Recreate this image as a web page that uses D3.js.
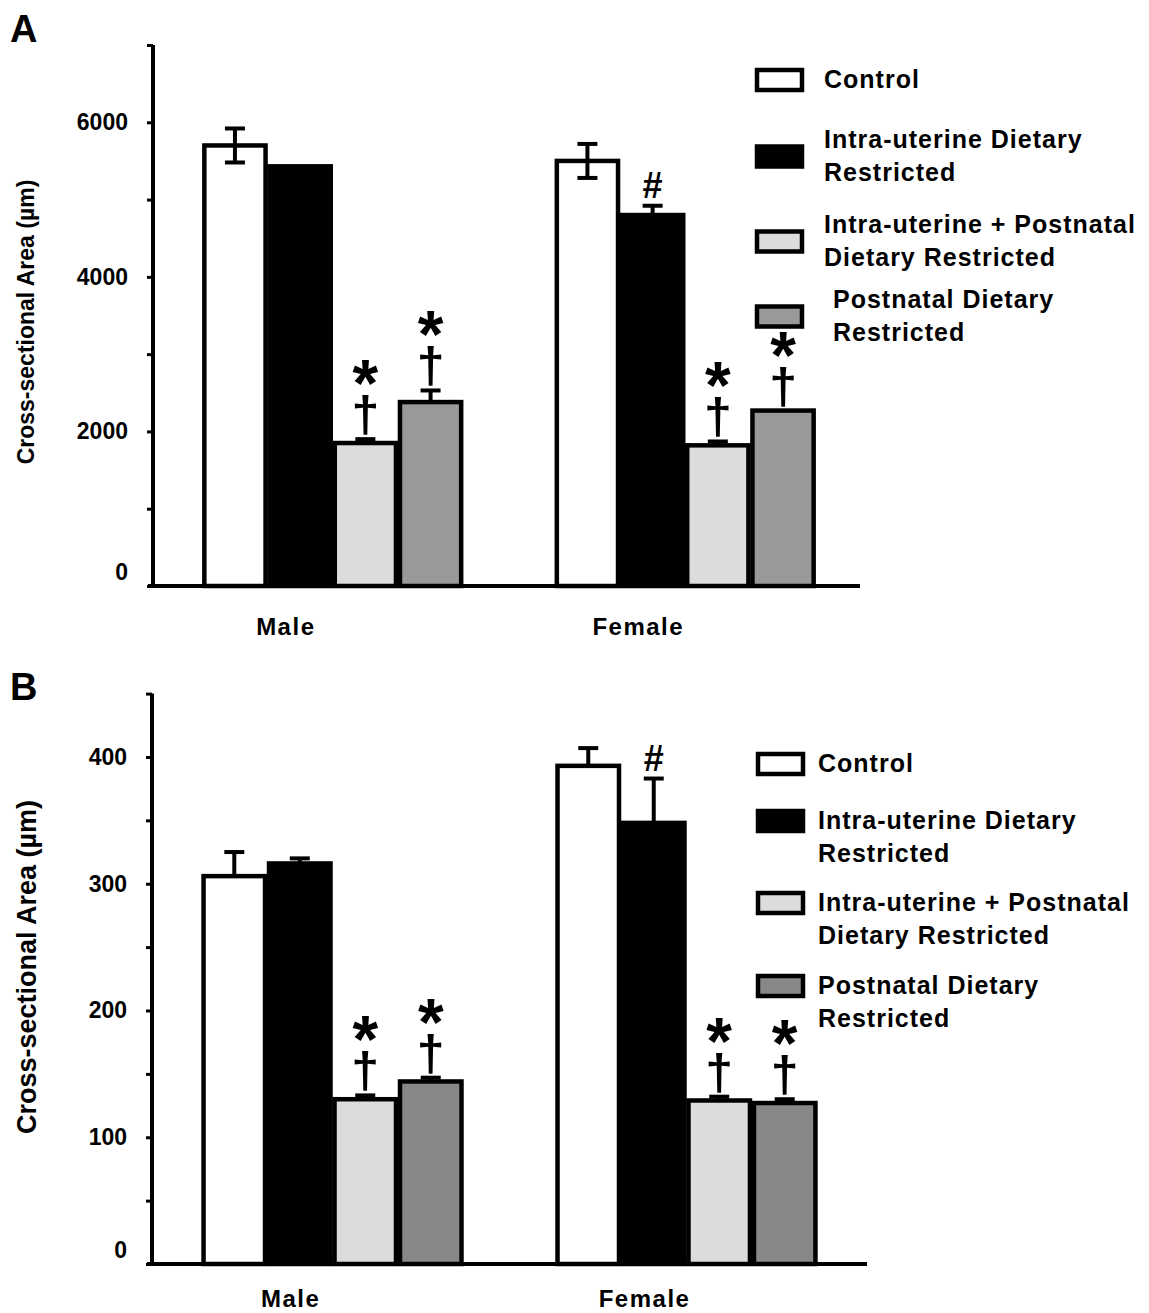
<!DOCTYPE html>
<html><head><meta charset="utf-8">
<script src="https://cdn.jsdelivr.net/npm/d3@7"></script>
<style>
body{margin:0;background:#fff}
svg{display:block}
text{font-family:"Liberation Sans",Arial,Helvetica,sans-serif;font-weight:bold;fill:#000}
</style>
</head><body>
<svg id="chart" width="1149" height="1313"></svg>
<script>
// ---------------- DATA ----------------
const groups = ["Male", "Female"];
const series = ["Control", "Intra-uterine Dietary Restricted", "Intra-uterine + Postnatal Dietary Restricted", "Postnatal Dietary Restricted"];
const legendLines = [["Control"], ["Intra-uterine Dietary", "Restricted"], ["Intra-uterine + Postnatal", "Dietary Restricted"], ["Postnatal Dietary", "Restricted"]];
const seriesColors = ["#ffffff", "#000000", "#dcdcdc", "#999999"];
const seriesColorsB = ["#ffffff", "#000000", "#dcdcdc", "#888888"];
const yLabel = "Cross-sectional Area (µm)";

// Panel A
const maleA = [5700, 5430, 1850, 2380];
const femaleA = [5500, 4800, 1820, 2270];
const maleErrA = [220, 0, 50, 150];
const femaleErrA = [220, 120, 50, 0];
const maleMarksA = ["", "", "*†", "*†"];
const femaleMarksA = ["", "#", "*†", "*†"];
const tickLabelsA = [0, 2000, 4000, 6000];
const tickMinorA = [0, 1000, 2000, 3000, 4000, 5000, 6000, 7000];

// Panel B
const maleB = [306, 316, 130, 144];
const femaleB = [393, 348, 129, 127];
const maleErrB = [19, 4, 3, 3];
const femaleErrB = [14, 35, 3, 3];
const maleMarksB = ["", "", "*†", "*†"];
const femaleMarksB = ["", "#", "*†", "*†"];
const tickLabelsB = [0, 100, 200, 300, 400];
const tickMinorB = [0, 50, 100, 150, 200, 250, 300, 350, 400, 450];

// ---------------- DRAW ----------------
const svg = d3.select("#chart");

function drawPanel(cfg) {
  const g = svg.append("g");
  const y = d3.scaleLinear().domain([0, cfg.max]).range([cfg.y0, cfg.y1]);
  const x0 = d3.scaleBand().domain(groups).range([cfg.axisX, cfg.xRight]).paddingInner(0.26).paddingOuter(0.14);
  const x1 = d3.scaleBand().domain(series).range([0, x0.bandwidth()]).padding(0);

  const data = [
    {group: "Male", vals: cfg.male, errs: cfg.maleErr, marks: cfg.maleMarks},
    {group: "Female", vals: cfg.female, errs: cfg.femaleErr, marks: cfg.femaleMarks}
  ];

  // panel letter
  g.append("text").attr("x", 10).attr("y", cfg.letterY).attr("font-size", 38).text(cfg.letter);

  // bars
  data.forEach(d => {
    const gg = g.append("g").attr("transform", `translate(${x0(d.group)},0)`);
    series.forEach((s, i) => {
      const v = d.vals[i];
      const bx = x1(s);
      const bw = x1.bandwidth();
      const e = d.errs[i];
      const cx = bx + bw / 2;
      if (e > 0) {
        gg.append("line").attr("x1", cx).attr("x2", cx).attr("y1", y(v)).attr("y2", y(v + e))
          .attr("stroke", "#000").attr("stroke-width", 4);
        gg.append("line").attr("x1", cx - 10).attr("x2", cx + 10).attr("y1", y(v + e)).attr("y2", y(v + e))
          .attr("stroke", "#000").attr("stroke-width", 4);
      }
      gg.append("rect")
        .attr("x", bx + 2).attr("width", bw - 4)
        .attr("y", y(v)).attr("height", y(0) - y(v))
        .attr("fill", cfg.colors[i]).attr("stroke", "#000").attr("stroke-width", 4.5);
      if (cfg.lowerWhisker[i] && e > 0) {
        gg.append("line").attr("x1", cx).attr("x2", cx).attr("y1", y(v)).attr("y2", y(v - e))
          .attr("stroke", "#000").attr("stroke-width", 4);
        gg.append("line").attr("x1", cx - 10).attr("x2", cx + 10).attr("y1", y(v - e)).attr("y2", y(v - e))
          .attr("stroke", "#000").attr("stroke-width", 4);
      }
      // marks
      const m = d.marks[i];
      const base = y(v + e) - 2;
      if (m === "#") {
        gg.append("text").attr("x", cx).attr("y", base - 6).attr("text-anchor", "middle")
          .attr("font-size", 36).text("#");
      } else if (m === "*†") {
        gg.append("text").attr("x", cx).attr("y", base - 6).attr("text-anchor", "middle")
          .attr("font-size", 50).text("†");
        gg.append("text").attr("x", cx).attr("y", base - 31).attr("text-anchor", "middle")
          .attr("font-size", 66).text("*");
      }
    });
  });

  // y axis
  const yAxis = d3.axisLeft(y).tickValues(cfg.minor).tickSize(6).tickFormat("");
  const ya = g.append("g").attr("transform", `translate(${cfg.axisX},0)`).call(yAxis);
  ya.select(".domain").attr("stroke-width", 4).attr("d", `M0,${y(cfg.max)}V${y(0)}`);
  ya.selectAll(".tick line").attr("stroke-width", 3);
  g.selectAll(".ticklab").data(cfg.labels).enter().append("text")
    .attr("x", cfg.axisX - 25).attr("y", v => y(v) + (v === 0 ? -6 : 8))
    .attr("text-anchor", "end").attr("font-size", 23).text(v => v);

  // x axis line
  g.append("line").attr("x1", cfg.axisX - 5).attr("x2", cfg.xEnd).attr("y1", y(0)).attr("y2", y(0))
    .attr("stroke", "#000").attr("stroke-width", 4);
  // group labels
  groups.forEach(gr => {
    g.append("text").attr("x", x0(gr) + x0.bandwidth() * cfg.labelFrac).attr("y", y(0) + cfg.groupLabelDy)
      .attr("text-anchor", "middle").attr("font-size", 24).attr("letter-spacing", 1.5).text(gr);
  });

  // y label
  g.append("text")
    .attr("transform", `translate(${cfg.yLabelX},${cfg.yLabelCy}) rotate(-90)`)
    .attr("text-anchor", "middle").attr("font-size", cfg.yLabelSize).text(yLabel);

  // legend
  const lg = g.append("g");
  series.forEach((s, i) => {
    const lines = legendLines[i];
    const ly = cfg.legendY[i];
    const boxCy = cfg.boxOnFirst ? ly - 8 : ly - 8 + (lines.length - 1) * 16.5;
    lg.append("rect").attr("x", cfg.boxX).attr("y", boxCy - 10).attr("width", 45).attr("height", 20)
      .attr("fill", cfg.colors[i]).attr("stroke", "#000").attr("stroke-width", 4.5);
    const t = lg.append("text").attr("x", cfg.textX + (cfg.indent[i] || 0)).attr("y", ly)
      .attr("font-size", 25).attr("letter-spacing", 1);
    lines.forEach((ln, k) => {
      t.append("tspan").attr("x", cfg.textX + (cfg.indent[i] || 0)).attr("y", ly + k * 33).text(ln);
    });
  });
}

drawPanel({
  letter: "A", letterY: 42,
  max: 7000, y0: 586, y1: 45, axisX: 153, xRight: 865, xEnd: 860,
  male: maleA, female: femaleA, maleErr: maleErrA, femaleErr: femaleErrA,
  maleMarks: maleMarksA, femaleMarks: femaleMarksA,
  labels: tickLabelsA, minor: tickMinorA,
  colors: seriesColors, lowerWhisker: [true, false, false, false],
  labelFrac: 0.32, groupLabelDy: 49, yLabelX: 34, yLabelCy: 322, yLabelSize: 23,
  legendY: [88, 148, 233, 308], boxOnFirst: false, boxX: 757, textX: 824, indent: [0, 0, 0, 9]
});

drawPanel({
  letter: "B", letterY: 700,
  max: 450, y0: 1264, y1: 693.6, axisX: 152, xRight: 867, xEnd: 867,
  male: maleB, female: femaleB, maleErr: maleErrB, femaleErr: femaleErrB,
  maleMarks: maleMarksB, femaleMarks: femaleMarksB,
  labels: tickLabelsB, minor: tickMinorB,
  colors: seriesColorsB, lowerWhisker: [false, false, false, false],
  labelFrac: 0.34, groupLabelDy: 43, yLabelX: 36, yLabelCy: 967, yLabelSize: 27,
  legendY: [772, 829, 911, 994], boxOnFirst: true, boxX: 758, textX: 818, indent: [0, 0, 0, 0]
});
</script>
</body></html>
